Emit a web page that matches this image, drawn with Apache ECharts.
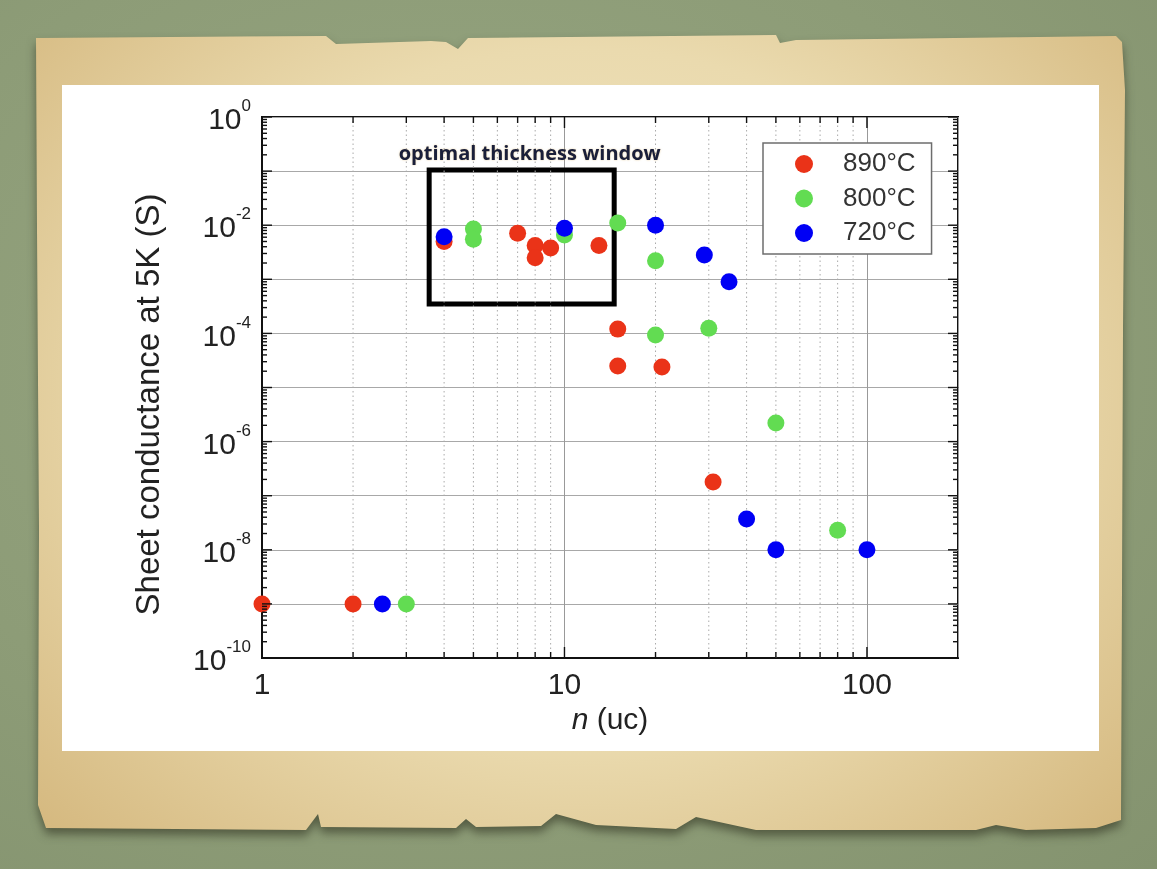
<!DOCTYPE html>
<html><head><meta charset="utf-8">
<script src="https://cdn.jsdelivr.net/npm/echarts@6/dist/echarts.min.js"></script>
<style>
html,body{margin:0;padding:0;width:1157px;height:869px;overflow:hidden;
 background:radial-gradient(ellipse at 40% 40%, #97a682 0%, #8d9c77 60%, #84936f 100%);}
#shadow{position:absolute;left:0;top:0;width:1157px;height:869px;filter:drop-shadow(0 6px 5px rgba(30,30,15,0.5));}
#paper{position:absolute;left:36px;top:30px;width:1090px;height:812px;
 background:radial-gradient(ellipse at 50% 45%, #f3e9c9 0%, #eadaae 55%, #d4b77d 100%);
 clip-path:polygon(0px 8px, 290px 6px, 300px 14px, 395px 11px, 410px 12px, 422px 19px, 432px 8px, 740px 5px, 744px 13px, 760px 10px, 1080px 6px, 1086px 12px, 1089px 60px, 1087px 300px, 1086px 560px, 1085px 790px, 1060px 798px, 990px 800px, 960px 795px, 940px 800px, 720px 800px, 660px 787px, 640px 799px, 560px 795px, 520px 784px, 505px 796px, 440px 797px, 430px 789px, 420px 798px, 285px 797px, 282px 784px, 270px 800px, 10px 798px, 2px 775px, 3px 500px, 1px 200px);}
#white{position:absolute;left:62px;top:85px;width:1037px;height:666px;background:#fff;}
#chart{position:absolute;left:0;top:0;width:1157px;height:869px;}
</style></head>
<body>
<div id="shadow"><div id="paper"></div></div><div id="white"></div><div id="chart"></div>
<script>
// ---- data ----
const seriesNames = ['890°C', '800°C', '720°C'];
const seriesColors = ['#ea3318', '#62dc52', '#0000f5'];
const n890 = [1, 2, 4, 7, 8, 8, 9, 13, 15, 15, 21, 31];
const g890 = [1e-9, 1e-9, 5.0e-3, 7.1e-3, 4.2e-3, 2.5e-3, 3.8e-3, 4.2e-3, 1.2e-4, 2.5e-5, 2.4e-5, 1.8e-7];
const n800 = [3, 5, 5, 10, 15, 20, 20, 30, 50, 80];
const g800 = [1e-9, 8.5e-3, 5.5e-3, 6.6e-3, 1.1e-2, 2.2e-3, 9.3e-5, 1.24e-4, 2.2e-6, 2.3e-8];
const n720 = [2.5, 4, 10, 20, 29, 35, 40, 50, 100];
const g720 = [1e-9, 6.1e-3, 8.8e-3, 1.0e-2, 2.8e-3, 9.0e-4, 3.7e-8, 1e-8, 1e-8];
const xRange = [1, 200];
const yRange = [1e-10, 1];
const xTickLabels = [1, 10, 100];
const yTickExponents = [0, -2, -4, -6, -8, -10];
const xMajorTicks = [10, 100];
const xMinorTicks = [2, 3, 4, 5, 6, 7, 8, 9, 20, 30, 40, 50, 60, 70, 80, 90];
const yMajorTicks = [1e-10, 1e-9, 1e-8, 1e-7, 1e-6, 1e-5, 1e-4, 1e-3, 1e-2, 1e-1, 1];
const yMinorMultipliers = [2, 3, 4, 5, 6, 7, 8, 9];
const windowBox = { nMin: 3.57, nMax: 14.6, gMax: 0.105, gMin: 3.5e-4, label: 'optimal thickness window' };

// ---- build ----
const yMinorTicks = [];
yMajorTicks.slice(0, -1).forEach(d => yMinorMultipliers.forEach(k => yMinorTicks.push(k * d)));
const yTickData = yMajorTicks.map(v => [xRange[0], v, 10]).concat(yMinorTicks.map(v => [xRange[0], v, 5]));
const xTickData = xMajorTicks.map(v => [v, yRange[0], 11]).concat(xMinorTicks.map(v => [v, yRange[0], 6]));
const xGridData = xMinorTicks.map(v => [v, yRange[0]]);

const FONT = 'Liberation Sans, Arial, sans-serif';
const TXT = '#222';

function seg(a, b, style) {
  return { type: 'line', shape: { x1: a[0], y1: a[1], x2: b[0], y2: b[1] }, style: style };
}
const tickStyle = { stroke: '#111', lineWidth: 1.4 };

const pairs = [[n890, g890], [n800, g800], [n720, g720]];
const scatterSeries = pairs.map((p, i) => ({
  name: seriesNames[i], type: 'scatter', symbol: 'circle', symbolSize: 17, z: 3,
  itemStyle: { color: seriesColors[i], opacity: 1 },
  data: p[0].map((x, j) => [x, p[1][j]])
}));

const chart = echarts.init(document.getElementById('chart'), null, { renderer: 'canvas' });
chart.setOption({
  animation: false,
  backgroundColor: 'transparent',
  grid: { left: 262, top: 117, width: 696, height: 541, show: true, borderColor: '#111', borderWidth: 2, backgroundColor: 'transparent' },
  legend: {
    data: seriesNames, orient: 'vertical', left: 763, top: 143,
    padding: [8, 16, 8, 32], itemGap: 8.5, icon: 'circle', itemWidth: 18, itemHeight: 18,
    backgroundColor: '#fff', borderColor: '#6d6d6d', borderWidth: 1.5,
    textStyle: { fontFamily: FONT, fontSize: 26, color: '#333', padding: [0, 0, 0, 25] }
  },
  xAxis: {
    type: 'log', logBase: 10, min: xRange[0], max: xRange[1],
    axisLine: { show: true, lineStyle: { color: '#111', width: 2 } },
    axisTick: { show: false },
    axisLabel: {
      fontFamily: FONT, fontSize: 30, color: TXT, margin: 13, lineHeight: 30,
      formatter: v => xTickLabels.includes(Math.round(v)) ? String(Math.round(v)) : ''
    },
    splitLine: { show: true, lineStyle: { color: '#999999', width: 1 } },
    name: '{i|n} (uc)', nameLocation: 'middle', nameGap: 46,
    nameTextStyle: { fontFamily: FONT, fontSize: 30, color: TXT,
      rich: { i: { fontFamily: FONT, fontSize: 30, fontStyle: 'italic', color: TXT } } }
  },
  yAxis: {
    type: 'log', logBase: 10, min: yRange[0], max: yRange[1], splitNumber: 10, interval: 1,
    axisLine: { show: true, lineStyle: { color: '#111', width: 2 } },
    axisTick: { show: false },
    axisLabel: {
      margin: 11, showMinLabel: true, showMaxLabel: true,
      formatter: v => {
        const e = Math.round(Math.log10(v));
        if (!yTickExponents.includes(e)) return '';
        return '{b|10}{e|' + e + '}';
      },
      rich: {
        b: { fontFamily: FONT, fontSize: 30, color: TXT, padding: [8, 0, 0, 0], verticalAlign: 'bottom' },
        e: { fontFamily: FONT, fontSize: 17, color: TXT, verticalAlign: 'top' }
      }
    },
    splitLine: { show: true, lineStyle: { color: '#a8a8a8', width: 1 } },
    name: 'Sheet conductance at 5K (S)', nameLocation: 'middle', nameGap: 96,
    nameTextStyle: { fontFamily: FONT, fontSize: 33, color: TXT, padding: [0, 34, 0, 0] }
  },
  series: [
    {
      name: 'xgrid', type: 'custom', coordinateSystem: 'cartesian2d', silent: true, z: 1, clip: false,
      data: xGridData,
      renderItem: (params, api) => {
        const v = api.value(0);
        const b = api.coord([v, yRange[0]]);
        const t = api.coord([v, yRange[1]]);
        return seg(b, t, { stroke: '#aaaaaa', lineWidth: 1, lineDash: [1.5, 3] });
      },
      markArea: {
        silent: true,
        itemStyle: { color: 'rgba(0,0,0,0)', borderColor: '#000', borderWidth: 5 },
        label: { show: true, position: 'top', distance: 3, offset: [8, 0], formatter: windowBox.label,
          fontFamily: 'Open Sans', fontWeight: 'bold', fontSize: 20, color: '#1a1f3a',
          textShadowColor: 'rgba(214,170,80,0.55)', textShadowBlur: 2 },
        data: [[{ coord: [windowBox.nMin, windowBox.gMax] }, { coord: [windowBox.nMax, windowBox.gMin] }]]
      }
    },
    ...scatterSeries,
    {
      name: 'yticks', type: 'custom', coordinateSystem: 'cartesian2d', silent: true, z: 4, clip: false,
      data: yTickData,
      renderItem: (params, api) => {
        const v = api.value(1), len = api.value(2);
        const L = api.coord([xRange[0], v]);
        const R = api.coord([xRange[1], v]);
        return { type: 'group', children: [
          seg(L, [L[0] + len, L[1]], tickStyle),
          seg(R, [R[0] - len, R[1]], tickStyle)
        ] };
      }
    },
    {
      name: 'xticks', type: 'custom', coordinateSystem: 'cartesian2d', silent: true, z: 4, clip: false,
      data: xTickData,
      renderItem: (params, api) => {
        const v = api.value(0), len = api.value(2);
        const B = api.coord([v, yRange[0]]);
        const T = api.coord([v, yRange[1]]);
        return { type: 'group', children: [
          seg(B, [B[0], B[1] - len], tickStyle),
          seg(T, [T[0], T[1] + len], tickStyle)
        ] };
      }
    }
  ]
});
</script>
</body></html>
